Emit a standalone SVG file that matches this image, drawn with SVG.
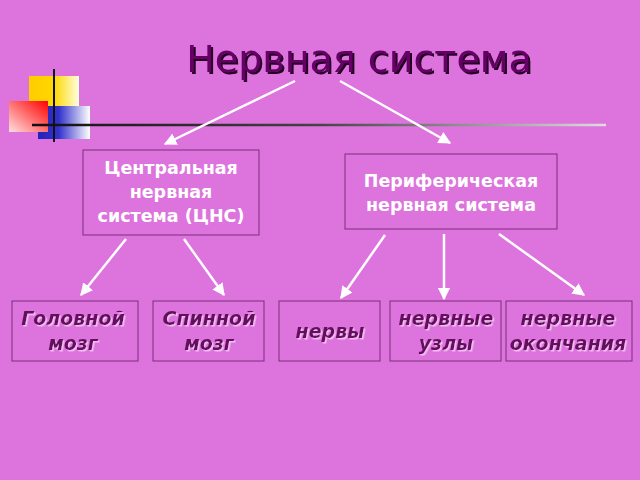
<svg xmlns="http://www.w3.org/2000/svg" width="640" height="480" viewBox="0 0 640 480">
<defs>
<linearGradient id="gy" x1="0" x2="1"><stop offset="0" stop-color="#ffcc00"/><stop offset="0.5" stop-color="#ffd700"/><stop offset="1" stop-color="#ffffe0"/></linearGradient>
<linearGradient id="gr" x1="1" y1="0" x2="0" y2="1"><stop offset="0" stop-color="#ff0000"/><stop offset="1" stop-color="#ffe0e0"/></linearGradient>
<linearGradient id="gb" x1="0" x2="1"><stop offset="0" stop-color="#2222bb"/><stop offset="0.4" stop-color="#3333cc"/><stop offset="1" stop-color="#ffffff"/></linearGradient>
<linearGradient id="gl" gradientUnits="userSpaceOnUse" x1="32" y1="0" x2="606" y2="0"><stop offset="0" stop-color="#111"/><stop offset="0.5" stop-color="#444"/><stop offset="1" stop-color="#ddd"/></linearGradient>
<filter id="ds" x="-10%" y="-20%" width="120%" height="150%"><feDropShadow dx="1.5" dy="1.5" stdDeviation="0.3" flood-color="#f4c0f4"/></filter>
<filter id="dt" x="-10%" y="-20%" width="120%" height="150%"><feDropShadow dx="2" dy="2" stdDeviation="0.5" flood-color="#220022"/></filter>
<marker id="ah" viewBox="0 0 10 10" refX="9" refY="5" markerWidth="5" markerHeight="5" orient="auto"><path d="M0,0 L10,5 L0,10 z" fill="#fff"/></marker>
<style>
.box{fill:#dd73dd;stroke:#7a2f7a;stroke-width:1}
.wt{font-family:"DejaVu Sans",sans-serif;font-weight:bold;font-size:17.5px;fill:#fff;text-anchor:middle}
.it{font-family:"DejaVu Sans",sans-serif;font-weight:bold;font-style:italic;font-size:19px;fill:#66115f;text-anchor:middle;filter:url(#ds)}
.c{stroke:#fff;stroke-width:2.5;fill:none;marker-end:url(#ah)}
</style>
</defs>
<rect width="640" height="480" fill="#dd73dd"/>
<g id="deco">
<rect x="29" y="76" width="50" height="46" fill="url(#gy)"/>
<rect x="38" y="106" width="52" height="33" fill="url(#gb)"/>
<rect x="9" y="101" width="39" height="31" fill="url(#gr)"/>
<line x1="32" y1="125" x2="606" y2="125" stroke="url(#gl)" stroke-width="2.5"/>
<line x1="54" y1="69" x2="54" y2="142" stroke="#111" stroke-width="2"/>
</g>
<g id="title"><text x="359" y="72" font-family="'DejaVu Sans',sans-serif" font-size="38" fill="#660066" text-anchor="middle" filter="url(#dt)">Нервная система</text></g>
<g id="connectors">
<line class="c" x1="295" y1="81" x2="165" y2="144"/>
<line class="c" x1="340" y1="81" x2="450" y2="143"/>
<line class="c" x1="126" y1="239" x2="81" y2="295"/>
<line class="c" x1="184" y1="239" x2="224" y2="295"/>
<line class="c" x1="385" y1="235" x2="341" y2="298"/>
<line class="c" x1="444" y1="234" x2="444" y2="299"/>
<line class="c" x1="499" y1="234" x2="584" y2="295"/>
</g>
<g id="cns"><rect class="box" x="83" y="150" width="176" height="85"/><text class="wt" x="171" y="174">Центральная</text><text class="wt" x="171" y="198">нервная</text><text class="wt" x="171" y="222">система (ЦНС)</text></g>
<g id="pns"><rect class="box" x="345" y="154" width="212" height="75"/><text class="wt" x="451" y="187">Периферическая</text><text class="wt" x="451" y="211">нервная система</text></g>
<g id="brain"><rect class="box" x="12" y="301" width="126" height="60"/><text class="it" x="73" y="325">Головной</text><text class="it" x="73" y="350">мозг</text></g>
<g id="spine"><rect class="box" x="153" y="301" width="111" height="60"/><text class="it" x="209" y="325">Спинной</text><text class="it" x="209" y="350">мозг</text></g>
<g id="nerves"><rect class="box" x="279" y="301" width="101" height="60"/><text class="it" x="330" y="338">нервы</text></g>
<g id="ganglia"><rect class="box" x="390" y="301" width="111" height="60"/><text class="it" x="446" y="325">нервные</text><text class="it" x="446" y="350">узлы</text></g>
<g id="endings"><rect class="box" x="506" y="301" width="126" height="60"/><text class="it" x="568" y="325">нервные</text><text class="it" x="568" y="350">окончания</text></g>
</svg>
